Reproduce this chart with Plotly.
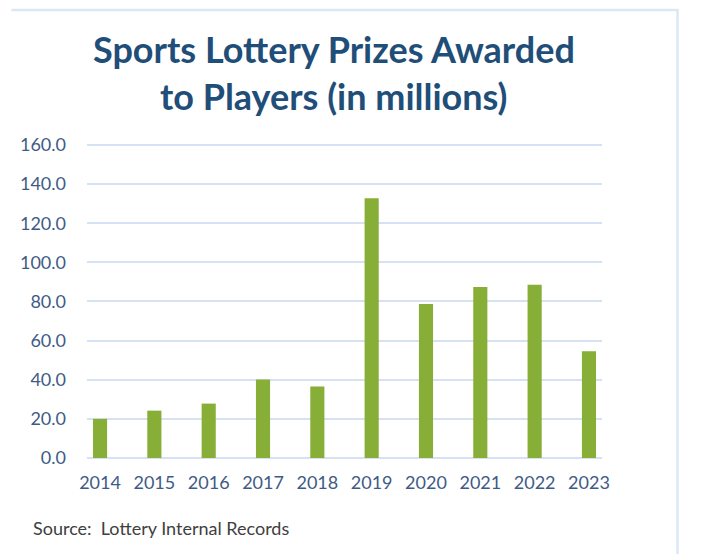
import plotly.graph_objects as go

YEARS = ["2014", "2015", "2016", "2017", "2018", "2019", "2020", "2021", "2022", "2023"]
PRIZES = [20.0, 24.2, 27.8, 40.1, 36.5, 132.7, 78.7, 87.4, 88.5, 54.5]
Y_TICKS = [0, 20, 40, 60, 80, 100, 120, 140, 160]

TITLE_LINES = ["Sports Lottery Prizes Awarded", "to Players (in millions)"]
SOURCE = "Source:  Lottery Internal Records"

FONT = "Lato, Calibri, Arial, sans-serif"
TITLE_COLOR = "#1f4e79"
TICK_COLOR = "#3e5b86"
GRID_COLOR = "#d6e2f3"
BAR_COLOR = "#87ae37"

# page has an 8px body margin, so the figure is drawn at (8, 8)
OFF = 8
W, H = 702 - OFF, 554 - OFF
Y_TOP = 161  # a little headroom so the 160 gridline is drawn
PX_PER_UNIT = 313 / 160
PW, PH = 525, round(PX_PER_UNIT * Y_TOP)
L = 77 - OFF
T = 458 - OFF - PH
X0, Y0 = L, T + PH  # plot-area left / zero line, in figure pixels


def px_x(x):
    return (x - OFF - X0) / PW


def px_y(y):
    return (Y0 - (y - OFF)) / PH


fig = go.Figure(
    go.Bar(
        x=YEARS,
        y=PRIZES,
        marker=dict(color=BAR_COLOR, line=dict(width=0)),
        width=0.26,
        hoverinfo="x+y",
    )
)

fig.update_layout(
    width=W,
    height=H,
    margin=dict(l=L, r=W - L - PW, t=T, b=H - T - PH),
    paper_bgcolor="white",
    plot_bgcolor="white",
    showlegend=False,
    font=dict(family=FONT, color=TICK_COLOR),
)

fig.update_xaxes(
    type="category",
    range=[-0.24, 9.24],
    showgrid=False,
    showline=False,
    zeroline=False,
    ticks="",
    tickfont=dict(size=18, color=TICK_COLOR),
    ticklabelstandoff=12,
)

fig.update_yaxes(
    range=[0, Y_TOP],
    tickvals=Y_TICKS,
    tickformat=".1f",
    showgrid=True,
    gridcolor=GRID_COLOR,
    gridwidth=1.5,
    zeroline=True,
    zerolinecolor=GRID_COLOR,
    zerolinewidth=1.5,
    showline=False,
    ticks="",
    tickfont=dict(size=18, color=TICK_COLOR),
    ticklabelstandoff=20,
)

# two-line title, placed like the Excel original
for i, line in enumerate(TITLE_LINES):
    fig.add_annotation(
        text=f"<b>{line}</b>",
        xref="paper", yref="paper",
        x=px_x(329), y=px_y(49 + 47 * i),
        xanchor="center", yanchor="middle",
        showarrow=False,
        font=dict(family=FONT, size=36, color=TITLE_COLOR),
    )

fig.add_annotation(
    text=SOURCE,
    xref="paper", yref="paper",
    x=px_x(20), y=px_y(528),
    xanchor="left", yanchor="middle",
    showarrow=False,
    font=dict(family=FONT, size=18, color="#404040"),
)

# light chart-area frame (top and right edges visible in the crop)
fig.add_shape(
    type="path",
    xref="paper", yref="paper",
    path=f"M {px_x(0)} {px_y(10)} L {px_x(679)} {px_y(10)} L {px_x(679)} {px_y(560)}",
    line=dict(color="#dce7f6", width=2.5),
    layer="below",
)

fig.write_html("out.html")
